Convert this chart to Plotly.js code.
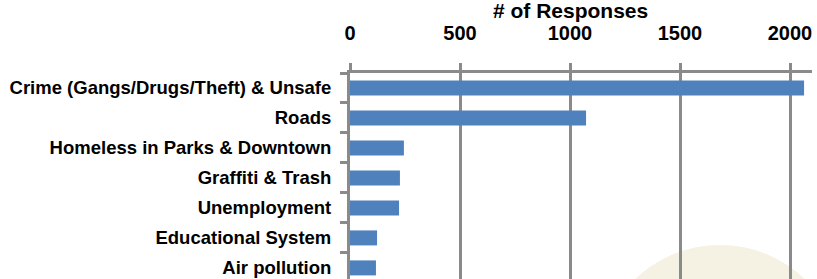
<!DOCTYPE html>
<html>
<head>
<meta charset="utf-8">
<script src="https://cdn.plot.ly/plotly-3.0.1.min.js"></script>
<style>html,body{margin:0;padding:0;background:#fff;overflow:hidden}#chart{width:817px;height:279px}</style>
</head>
<body>
<div id="chart"></div>
<script>
const categories = [
  "Crime (Gangs/Drugs/Theft) & Unsafe",
  "Roads",
  "Homeless in Parks & Downtown",
  "Graffiti & Trash",
  "Unemployment",
  "Educational System",
  "Air pollution"
];
const responses = [2064, 1073, 245, 227, 223, 123, 118];
const xTickValues = [0, 500, 1000, 1500, 2000];
const axisTitle = "# of Responses";

const trace = {
  type: "bar",
  orientation: "h",
  y: categories,
  x: responses,
  marker: {color: "#4f81bd"},
  hoverinfo: "x+y"
};

const layout = {
  width: 817,
  height: 279,
  margin: {l: 350, r: 5, t: 73, b: 0, pad: 0},
  paper_bgcolor: "#ffffff",
  plot_bgcolor: "rgba(0,0,0,0)",
  bargap: 0.5,
  showlegend: false,
  font: {family: "Liberation Sans, Arial, sans-serif", color: "#000"},
  xaxis: {
    side: "top",
    range: [0, 2100],
    tickvals: xTickValues,
    ticks: "outside",
    ticklen: 7,
    tickwidth: 3,
    tickcolor: "#8a8a8a",
    showline: true,
    linecolor: "#8a8a8a",
    linewidth: 3,
    showgrid: true,
    gridcolor: "#8a8a8a",
    gridwidth: 3,
    zeroline: false,
    ticklabelstandoff: 15,
    tickfont: {size: 20, weight: "bold", color: "#000"}
  },
  yaxis: {
    type: "category",
    range: [6.37, -0.5],
    ticks: "outside",
    tickson: "boundaries",
    ticklen: 7,
    tickwidth: 3,
    tickcolor: "#8a8a8a",
    showline: true,
    linecolor: "#8a8a8a",
    linewidth: 3,
    showgrid: false,
    zeroline: false,
    ticklabelstandoff: 12,
    tickfont: {size: 18.5, weight: "bold", color: "#000"}
  },
  annotations: [{
    text: axisTitle,
    xref: "paper", yref: "paper",
    x: (570 - 350) / 462, y: (279 - 24) / 206,
    xanchor: "center", yanchor: "bottom",
    showarrow: false,
    font: {size: 21, weight: "bold", color: "#000"}
  }],
  shapes: [{
    type: "circle",
    xref: "paper", yref: "paper",
    layer: "below",
    x0: (720 - 123 - 350) / 462, x1: (720 + 123 - 350) / 462,
    y0: (279 - (368 + 123)) / 206, y1: (279 - (368 - 123)) / 206,
    fillcolor: "#f5f1e3",
    line: {width: 0}
  }]
};

Plotly.newPlot("chart", [trace], layout, {displayModeBar: false, staticPlot: true});
</script>
</body>
</html>
